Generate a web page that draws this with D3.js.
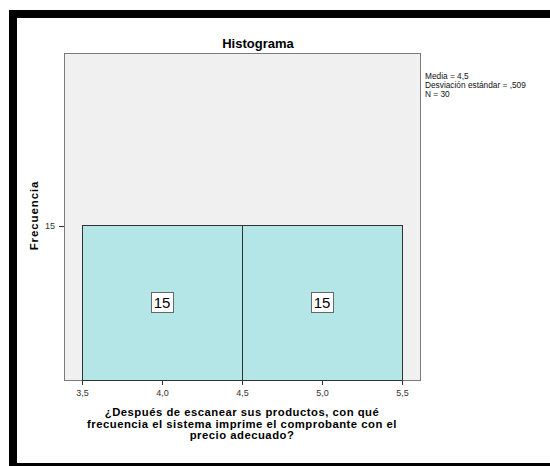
<!DOCTYPE html>
<html><head><meta charset="utf-8">
<script src="https://cdn.jsdelivr.net/npm/d3@7"></script>
<style>body{margin:0;background:#fff}svg{display:block;font-family:Arial,"Liberation Sans",sans-serif}</style>
</head><body>
<svg id="c" width="550" height="466"></svg>
<script>
const binStarts = [3.5, 4.5];
const binEnds = [4.5, 5.5];
const counts = [15, 15];
const xTicks = [3.5, 4.0, 4.5, 5.0, 5.5];
const yTicks = [15];
const statsLines = ["Media = 4,5", "Desviación estándar = ,509", "N = 30"];
const titleText = "Histograma";
const yLabel = "Frecuencia";
const xLabelLines = ["¿Después de escanear sus productos, con qué", "frecuencia el sistema imprime el comprobante con el", "precio adecuado?"];

const svg = d3.select("#c");
// outer frame
svg.append("rect").attr("x",0).attr("y",0).attr("width",550).attr("height",466).attr("fill","#fff");
svg.append("rect").attr("x",9).attr("y",10).attr("width",541).attr("height",8).attr("fill","#000");
svg.append("rect").attr("x",9).attr("y",10).attr("width",8).attr("height",456).attr("fill","#000");
svg.append("rect").attr("x",9).attr("y",463).attr("width",541).attr("height",3).attr("fill","#000");

const L=64, R=420, T=53, B=380;
const x = d3.scaleLinear().domain([3.3875, 5.6125]).range([L, R]);
const y = d3.scaleLinear().domain([0, 31.85]).range([B, T]);

svg.append("rect").attr("x",L).attr("y",T).attr("width",R-L).attr("height",B-T)
  .attr("fill","#f0f0f0").attr("stroke","#7a7a7a").attr("stroke-width",1).attr("shape-rendering","crispEdges");

const fmt = d => d3.format(".1f")(d).replace(".", ",");

svg.selectAll("rect.bar").data(counts).join("rect").attr("class","bar")
  .attr("x",(d,i)=>x(binStarts[i])).attr("width",(d,i)=>x(binEnds[i])-x(binStarts[i]))
  .attr("y",d=>y(d)).attr("height",d=>y(0)-y(d))
  .attr("fill","#b4e6e8").attr("stroke","#333").attr("stroke-width",1).attr("shape-rendering","crispEdges");

// value labels
const g = svg.append("g");
counts.forEach((d,i)=>{
  const cx = x((binStarts[i]+binEnds[i])/2);
  const cy = y(d/2);
  g.append("rect").attr("x",cx-11).attr("y",cy-10).attr("width",22).attr("height",20)
    .attr("fill","#fff").attr("stroke","#666").attr("shape-rendering","crispEdges");
  g.append("text").attr("x",cx).attr("y",cy+5.5).attr("text-anchor","middle")
    .attr("font-size",15).attr("fill","#000").text(d);
});

// x axis
const xa = svg.append("g").attr("transform",`translate(0,${B})`)
  .call(d3.axisBottom(x).tickValues(xTicks).tickFormat(fmt).tickSize(5).tickSizeOuter(0));
xa.select(".domain").remove();
xa.selectAll("line").attr("stroke","#333");
xa.selectAll("text").attr("font-size",9).attr("fill","#333").attr("dy","0.9em")
  .attr("font-family","Arial,'Liberation Sans',sans-serif");

// y axis
const ya = svg.append("g").attr("transform",`translate(${L},0)`)
  .call(d3.axisLeft(y).tickValues(yTicks).tickSize(5).tickSizeOuter(0));
ya.select(".domain").remove();
ya.selectAll("line").attr("stroke","#333");
ya.selectAll("text").attr("font-size",9).attr("fill","#333").attr("dx","-0.1em")
  .attr("font-family","Arial,'Liberation Sans',sans-serif");

// title
svg.append("text").attr("x",258).attr("y",48).attr("text-anchor","middle")
  .attr("font-size",13).attr("font-weight","bold").text(titleText);

// y label
svg.append("text").attr("transform",`translate(38,${(T+B)/2 - 1}) rotate(-90)`)
  .attr("text-anchor","middle").attr("font-size",11.5).attr("font-weight","bold").attr("letter-spacing","0.9").text(yLabel);

// x label
xLabelLines.forEach((t,i)=>{
  svg.append("text").attr("x",(L+R)/2).attr("y",416+i*11.5).attr("text-anchor","middle")
    .attr("font-size",11.3).attr("font-weight","bold").attr("letter-spacing","0.5").text(t);
});

// stats
statsLines.forEach((t,i)=>{
  svg.append("text").attr("x",425).attr("y",79+i*9).attr("font-size",8.3).attr("fill","#111").text(t);
});
</script>
</body></html>
